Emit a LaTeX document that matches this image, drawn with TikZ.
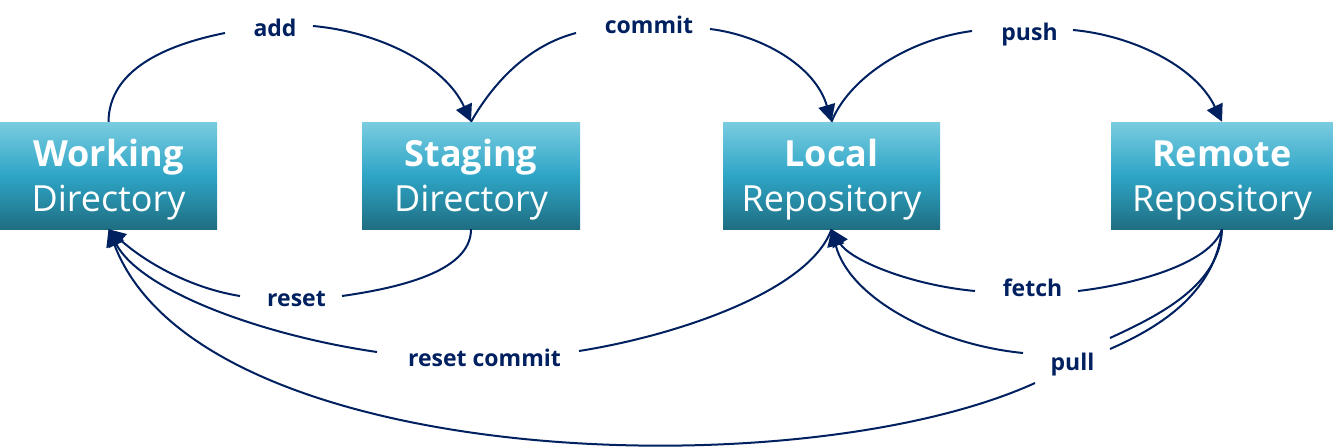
\documentclass[tikz,border=0pt]{standalone}
\usepackage{fontspec}
\setmainfont{Open Sans}
\usetikzlibrary{arrows.meta}
\definecolor{navy}{RGB}{0,32,96}
\definecolor{boxtop}{RGB}{122,204,224}
\definecolor{boxmid}{RGB}{46,165,198}
\definecolor{boxbot}{RGB}{31,110,130}
\tikzset{
  box/.style={minimum width=217pt, minimum height=107pt, inner sep=0pt, draw=none,
    top color=boxtop, bottom color=boxbot, middle color=boxmid},
  boxtext/.style={text=white, align=center, font=\fontsize{36}{45}\selectfont, inner sep=0pt},
  lbl/.style={text=navy, font=\bfseries\fontsize{23}{28}\selectfont, inner sep=0pt, anchor=base},
  conn/.style={draw=navy, line width=2pt},
  arrowend/.style={-{Triangle[length=17pt,width=17pt]}},
  arrowstart/.style={{Triangle[length=17pt,width=17pt]}-},
}
\begin{document}
\begin{tikzpicture}[x=1pt,y=-1pt]
\useasboundingbox (0,0) rectangle (1333,447);
% boxes
\node[box] (W) at (108.5,175.5) {};
\node[box, minimum width=218pt] (S) at (471,175.5) {};
\node[box] (L) at (831.5,175.5) {};
\node[box, minimum width=222pt] (R) at (1222,175.5) {};
\node[boxtext] (Wt) at (108.5,180) {\textbf{Working}\\Directory};
\node[boxtext] (St) at (471,180) {\textbf{Staging}\\Directory};
\node[boxtext] (Lt) at (831.5,180) {\textbf{Local}\\Repository};
\node[boxtext] (Rt) at (1222,180) {\textbf{Remote}\\Repository};
% labels
\node[lbl] (add) at (275,36.5) {add};
\node[lbl] (commit) at (649,33.3) {commit};
\node[lbl] (push) at (1029.5,40) {push};
\node[lbl] (reset) at (296.5,306.5) {reset};
\node[lbl] (resetcommit) at (484.5,366.5) {reset commit};
\node[lbl] (fetch) at (1032.5,296) {fetch};
\node[lbl] (pull) at (1072.5,370) {pull};
% gap ends
\coordinate (add1) at (225,33); \coordinate (add2) at (313,26);
\coordinate (com1) at (576,33); \coordinate (com2) at (710,29);
\coordinate (push1) at (972,31); \coordinate (push2) at (1073,30);
\coordinate (rst1) at (240,296); \coordinate (rst2) at (342,296);
\coordinate (rc1) at (377,352); \coordinate (rc2) at (579,351);
\coordinate (fet1) at (975,291); \coordinate (fet2) at (1078,291);
\coordinate (pl1) at (1023,353); \coordinate (pl2) at (1110,338);
\coordinate (pw1) at (1035,383); \coordinate (pw2) at (1110,349);
% add
\draw[conn] (W.north) .. controls (109,70) and (165,45) .. (add1);
\draw[conn,arrowend] (add2) .. controls (380,32) and (445,65) .. (S.north);
% commit
\draw[conn] (S.north) .. controls (495,80) and (530,45) .. (com1);
\draw[conn,arrowend] (com2) .. controls (760,35) and (815,65) .. (L.north);
% push
\draw[conn] (L.north) .. controls (848,80) and (905,40) .. (push1);
\draw[conn,arrowend] (push2) .. controls (1130,35) and (1195,65) .. (R.north);
% reset
\draw[conn,arrowstart] (W.south) .. controls (145,262) and (190,288) .. (rst1);
\draw[conn] (rst2) .. controls (420,285) and (471,265) .. (S.south);
% reset commit
\draw[conn,arrowstart] (W.south) .. controls (140,290) and (260,335) .. (rc1);
\draw[conn] (rc2) .. controls (680,335) and (810,290) .. (L.south);
% fetch
\draw[conn,arrowstart] (L.south) .. controls (850,260) and (910,285) .. (fet1);
\draw[conn] (fet2) .. controls (1130,285) and (1210,265) .. (R.south);
% pull to local
\draw[conn,arrowstart] (L.south) .. controls (850,300) and (940,345) .. (pl1);
\draw[conn] (pl2) .. controls (1160,315) and (1220,285) .. (R.south);
% pull to working
\draw[conn,arrowstart] (W.south) .. controls (200,470) and (800,490) .. (pw1);
\draw[conn] (pw2) .. controls (1165,325) and (1215,290) .. (R.south);
\end{tikzpicture}
\end{document}
